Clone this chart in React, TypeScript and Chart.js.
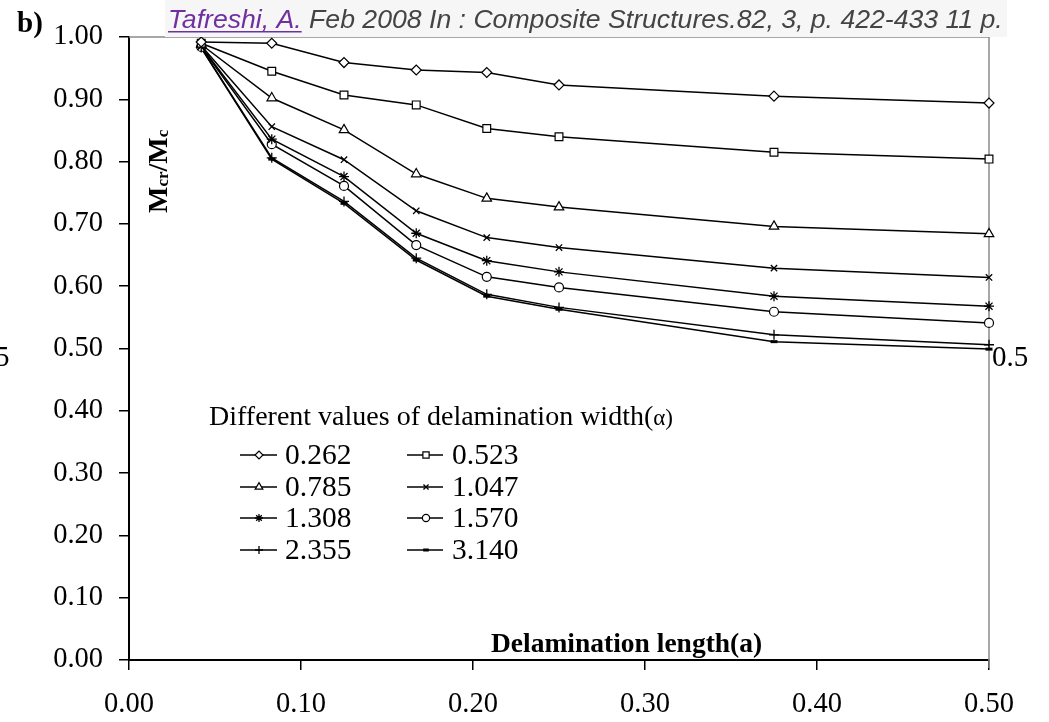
import React, { useEffect, useRef } from 'react';
import { Chart, registerables } from 'chart.js';
import { drawPoint } from 'chart.js/helpers';

Chart.register(...registerables);

// ---------- data ----------
const delaminationLength = [0.042, 0.083, 0.125, 0.167, 0.208, 0.25, 0.375, 0.5];
const widthLabels = ['0.262', '0.523', '0.785', '1.047', '1.308', '1.570', '2.355', '3.140'];
const s0262 = [0.992, 0.990, 0.959, 0.947, 0.943, 0.923, 0.905, 0.894];
const s0523 = [0.990, 0.945, 0.907, 0.891, 0.853, 0.840, 0.815, 0.804];
const s0785 = [0.988, 0.902, 0.851, 0.780, 0.741, 0.727, 0.696, 0.684];
const s1047 = [0.986, 0.856, 0.803, 0.721, 0.678, 0.662, 0.629, 0.614];
const s1308 = [0.985, 0.836, 0.776, 0.685, 0.641, 0.623, 0.584, 0.568];
const s1570 = [0.984, 0.828, 0.761, 0.666, 0.615, 0.598, 0.559, 0.541];
const s2355 = [0.983, 0.806, 0.736, 0.645, 0.587, 0.566, 0.522, 0.506];
const s3140 = [0.982, 0.804, 0.733, 0.642, 0.584, 0.563, 0.511, 0.499];
const seriesValues = [s0262, s0523, s0785, s1047, s1308, s1570, s2355, s3140];
const xTickValues = [0, 0.1, 0.2, 0.3, 0.4, 0.5];
const yTickValues = [0, 0.1, 0.2, 0.3, 0.4, 0.5, 0.6, 0.7, 0.8, 0.9, 1.0];

const legendTitle = 'Different values of delamination width(';
const xTitle = 'Delamination length(a)';
const citeAuthor = 'Tafreshi, A.';
const citeRest = ' Feb 2008 In : Composite Structures.82, 3, p. 422-433 11 p.';

// ---------- styles ----------
const markerStyles = ['rectRot', 'rect', 'triangle', 'crossRot', 'star', 'circle', 'cross', 'line'];
const markerRadius = [5, 5.5, 5.5, 4.5, 5, 4.5, 5, 3.5];
const markerBorder = [1.2, 1.2, 1.2, 1.3, 1.3, 1.2, 1.3, 3];

const SERIF = '"Liberation Serif", "Times New Roman", serif';
const SANS = '"Liberation Sans", Arial, sans-serif';

const overlayPlugin = {
  id: 'overlay',
  beforeDatasetsDraw(chart: any) {
    const { ctx, chartArea } = chart;
    ctx.save();
    ctx.strokeStyle = '#8a8a8a';
    ctx.lineWidth = 1.5;
    ctx.beginPath();
    ctx.moveTo(chartArea.left, chartArea.top);
    ctx.lineTo(chartArea.right, chartArea.top);
    ctx.lineTo(chartArea.right, chartArea.bottom + 8);
    ctx.stroke();
    ctx.restore();
  },
  afterDraw(chart: any) {
    const { ctx } = chart;
    ctx.save();
    // citation band
    ctx.fillStyle = '#f6f6f6';
    ctx.fillRect(165, 0, 842, 37);
    ctx.textBaseline = 'alphabetic';
    ctx.textAlign = 'left';
    ctx.font = `italic 27px ${SANS}`;
    const full = ctx.measureText(citeAuthor + citeRest).width;
    const fs = (27 * 835) / full;
    ctx.font = `italic ${fs}px ${SANS}`;
    ctx.fillStyle = '#7030a0';
    ctx.fillText(citeAuthor, 168, 28);
    const aw = ctx.measureText(citeAuthor).width;
    ctx.fillRect(168, 31, aw, 1.5);
    ctx.fillStyle = '#444444';
    ctx.fillText(citeRest, 168 + aw, 28);

    // panel label
    ctx.fillStyle = '#000';
    ctx.font = `bold 29px ${SERIF}`;
    ctx.fillText('b)', 17, 32);

    // y title Mcr/Mc rotated
    ctx.save();
    ctx.translate(167, 213);
    ctx.rotate(-Math.PI / 2);
    let px = 0;
    const big = `bold 28px ${SERIF}`;
    const small = `bold 17px ${SERIF}`;
    const parts: [string, string, number][] = [
      ['M', big, 0], ['cr', small, 1], ['/M', big, 0], ['c', small, 1],
    ];
    for (const [t, f, dy] of parts) {
      ctx.font = f;
      ctx.fillText(t, px, dy);
      px += ctx.measureText(t).width;
    }
    ctx.restore();

    // x title
    ctx.font = `bold 27.5px ${SERIF}`;
    ctx.fillText(xTitle, 491, 652);

    // legend
    ctx.font = `28px ${SERIF}`;
    ctx.textBaseline = 'middle';
    ctx.fillText(legendTitle, 209, 418);
    const tw = ctx.measureText(legendTitle).width;
    ctx.font = `23px ${SERIF}`;
    ctx.fillText('\u03b1)', 209 + tw, 419);

    const rows = [455, 487, 518, 550];
    const cols = [{ l0: 240, l1: 277, m: 259, t: 285 }, { l0: 407, l1: 443, m: 426, t: 452 }];
    ctx.font = `29.5px ${SERIF}`;
    widthLabels.forEach((lab, i) => {
      const c = cols[i % 2];
      const y = rows[Math.floor(i / 2)];
      ctx.strokeStyle = '#000';
      ctx.lineWidth = 1.5;
      ctx.beginPath();
      ctx.moveTo(c.l0, y);
      ctx.lineTo(c.l1, y);
      ctx.stroke();
      ctx.fillStyle = '#fff';
      ctx.strokeStyle = '#000';
      ctx.lineWidth = markerBorder[i];
      drawPoint(ctx, { pointStyle: markerStyles[i], radius: markerRadius[i] * 0.8, borderWidth: markerBorder[i], rotation: 0 }, c.m, y);
      ctx.fillStyle = '#000';
      ctx.fillText(lab, c.t, y + 1);
    });

    // stray labels
    ctx.font = `29px ${SERIF}`;
    ctx.fillText('0.5', 992, 358);
    ctx.fillText('5', -5, 358);
    ctx.restore();
  },
};

export default function App() {
  const ref = useRef<HTMLCanvasElement>(null);
  useEffect(() => {
    if (!ref.current) return;
    const datasets = seriesValues.map((vals, i) => ({
      label: widthLabels[i],
      data: vals.map((v, j) => ({ x: delaminationLength[j], y: v })),
      borderColor: '#000',
      borderWidth: 1.5,
      backgroundColor: '#fff',
      pointStyle: markerStyles[i],
      pointRadius: markerRadius[i],
      pointBorderWidth: markerBorder[i],
      pointBackgroundColor: '#fff',
      pointBorderColor: '#000',
      tension: 0,
      clip: false,
    }));
    const chart = new Chart(ref.current, {
      type: 'line',
      data: { datasets },
      plugins: [overlayPlugin],
      options: {
        animation: false,
        responsive: false,
        devicePixelRatio: 1,
        layout: { padding: { left: 0, top: 37, right: 60, bottom: 0 } },
        plugins: { legend: { display: false }, tooltip: { enabled: false } },
        scales: {
          x: {
            type: 'linear',
            min: 0,
            max: 0.5,
            afterFit: (s: any) => { s.height = 62; },
            afterBuildTicks: (s: any) => { s.ticks = xTickValues.map((v) => ({ value: v })); },
            grid: { drawOnChartArea: false, drawTicks: true, tickLength: 10, color: '#000', lineWidth: 1.5 },
            border: { color: '#000', width: 2 },
            ticks: {
              color: '#000',
              padding: 17,
              maxRotation: 0,
              font: { family: SERIF, size: 28.5 },
              callback: (v: any) => Number(v).toFixed(2),
            },
          },
          y: {
            type: 'linear',
            min: 0,
            max: 1,
            afterFit: (s: any) => { s.width = 129; },
            afterBuildTicks: (s: any) => { s.ticks = yTickValues.map((v) => ({ value: v })); },
            grid: { drawOnChartArea: false, drawTicks: true, tickLength: 10, color: '#000', lineWidth: 1.5 },
            border: { color: '#000', width: 2 },
            ticks: {
              color: '#000',
              padding: 16,
              font: { family: SERIF, size: 28.5 },
              callback: (v: any) => Number(v).toFixed(2),
            },
          },
        },
      },
    } as any);
    return () => chart.destroy();
  }, []);
  return (
    <div style={{ position: 'absolute', left: 0, top: 0, width: 1049, height: 722, background: '#fff' }}>
      <canvas ref={ref} width={1049} height={722} style={{ display: 'block' }} />
    </div>
  );
}
